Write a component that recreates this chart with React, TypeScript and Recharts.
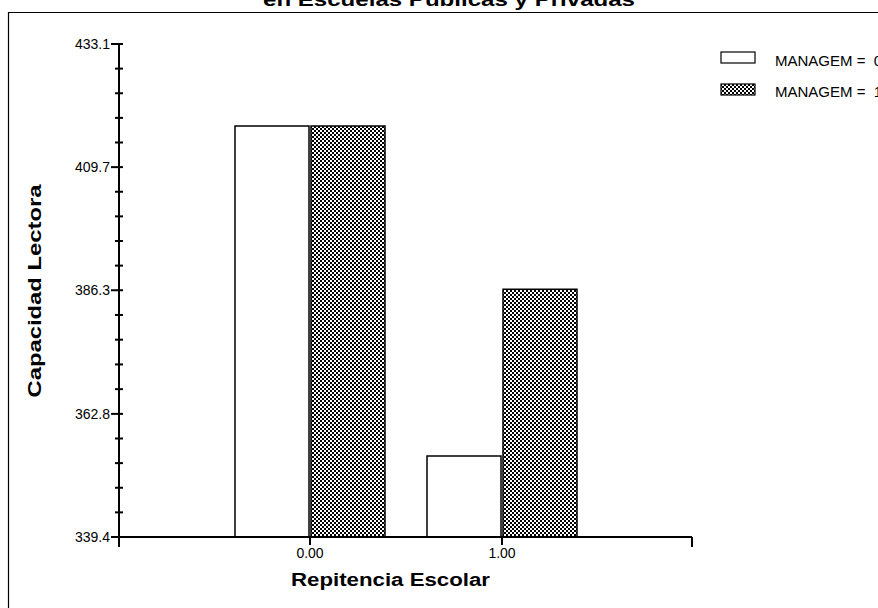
import { BarChart, Bar, XAxis, YAxis } from "recharts";

const categories = ["0.00", "1.00"];
const managem0 = [417.5, 354.8];
const managem1 = [417.5, 386.5];
const seriesNames = ["MANAGEM =\u00a0\u00a00", "MANAGEM =\u00a0\u00a01"];
const yMajorTicks = [339.4, 362.8, 386.3, 409.7, 433.1];

const data = categories.map((cat, i) => ({ cat, m0: managem0[i], m1: managem1[i] }));

// 4 minor ticks between each pair of labelled ticks
const yTicks: number[] = [];
yMajorTicks.forEach((v, i) => {
  yTicks.push(v);
  const next = yMajorTicks[i + 1];
  if (next !== undefined) {
    for (let k = 1; k < 5; k++) yTicks.push(v + ((next - v) * k) / 5);
  }
});

const W = 878;
const H = 608;
const PLOT_LEFT = 119;
const PLOT_RIGHT = 692;
const PLOT_TOP = 44;
const PLOT_BOTTOM = 537;
const FONT = "'Liberation Sans', Arial, sans-serif";

const YTick = (props: any) => {
  const { x, y, payload } = props;
  const major = yMajorTicks.some((v) => Math.abs(v - payload.value) < 1e-6);
  return (
    <g>
      <line x1={x - (major ? 8 : 4)} x2={x + 4} y1={y} y2={y} stroke="#000" strokeWidth={2} />
      {major && (
        <text x={x - 9} y={y} dy={5} textAnchor="end" fontSize={14} fontFamily={FONT} fill="#000">
          {payload.value.toFixed(1)}
        </text>
      )}
    </g>
  );
};

export default function App() {
  return (
    <div style={{ position: "absolute", left: 0, top: 0, width: W, height: H, background: "#fff", overflow: "hidden" }}>
      <svg width={0} height={0} style={{ position: "absolute" }}>
        <defs>
          <pattern id="xhatch" width="4" height="4" patternUnits="userSpaceOnUse">
            <rect width="4" height="4" fill="#fff" />
            <rect x="0" y="0" width="2" height="2" fill="#000" />
            <rect x="2" y="2" width="2" height="2" fill="#000" />
          </pattern>
        </defs>
      </svg>
      <div style={{ position: "absolute", left: 0, top: 0 }}>
        <BarChart
          width={W}
          height={H}
          data={data}
          barGap={2}
          margin={{ top: PLOT_TOP, right: W - PLOT_RIGHT, bottom: 0, left: 0 }}
        >
          <XAxis
            dataKey="cat"
            height={H - PLOT_BOTTOM}
            padding={{ left: 95, right: 94 }}
            axisLine={{ stroke: "#000", strokeWidth: 2 }}
            tickLine={{ stroke: "#000", strokeWidth: 2 }}
            tickSize={8}
            tickMargin={3}
            tick={{ fill: "#000", fontSize: 14, fontFamily: FONT }}
          />
          <YAxis
            type="number"
            width={PLOT_LEFT}
            domain={[yMajorTicks[0], yMajorTicks[yMajorTicks.length - 1]]}
            allowDataOverflow
            ticks={yTicks}
            interval={0}
            tickSize={0}
            tickMargin={0}
            tickLine={false}
            axisLine={{ stroke: "#000", strokeWidth: 2 }}
            tick={<YTick />}
          />
          <Bar dataKey="m0" name={seriesNames[0]} fill="#fff" stroke="#000" strokeWidth={1.5} barSize={74} isAnimationActive={false} />
          <Bar dataKey="m1" name={seriesNames[1]} fill="url(#xhatch)" stroke="#000" strokeWidth={1.5} barSize={74} isAnimationActive={false} />
        </BarChart>
      </div>
      <svg
        width={W}
        height={H}
        style={{ position: "absolute", left: 0, top: 0, pointerEvents: "none" }}
        fontFamily={FONT}
      >
        {/* frame */}
        <line x1={8} x2={W} y1={12.5} y2={12.5} stroke="#000" strokeWidth={1.2} />
        <line x1={8.5} x2={8.5} y1={12} y2={H} stroke="#000" strokeWidth={1.2} />
        {/* axis extensions */}
        <line x1={PLOT_LEFT} x2={PLOT_LEFT} y1={PLOT_BOTTOM} y2={PLOT_BOTTOM + 10} stroke="#000" strokeWidth={2} />
        <line x1={PLOT_RIGHT} x2={PLOT_RIGHT} y1={PLOT_BOTTOM} y2={PLOT_BOTTOM + 10} stroke="#000" strokeWidth={2} />
        {/* titles */}
        <text x={263} y={6} fontSize={18} fontWeight="bold" textLength={372} lengthAdjust="spacingAndGlyphs">
          en Escuelas Publicas y Privadas
        </text>
        <text x={291} y={586} fontSize={18} fontWeight="bold" textLength={199} lengthAdjust="spacingAndGlyphs">
          Repitencia Escolar
        </text>
        <text
          transform="translate(41, 291) rotate(-90)"
          x={0}
          y={0}
          textAnchor="middle"
          fontSize={18}
          fontWeight="bold"
          textLength={213}
          lengthAdjust="spacingAndGlyphs"
        >
          Capacidad Lectora
        </text>
        {/* legend */}
        <rect x={721} y={52} width={34} height={11} fill="#fff" stroke="#000" strokeWidth={1.2} />
        <text x={775} y={66} fontSize={15}>{seriesNames[0]}</text>
        <rect x={721} y={84} width={34} height={11} fill="url(#xhatch)" stroke="#000" strokeWidth={1.2} />
        <text x={775} y={97} fontSize={15}>{seriesNames[1]}</text>
      </svg>
    </div>
  );
}
